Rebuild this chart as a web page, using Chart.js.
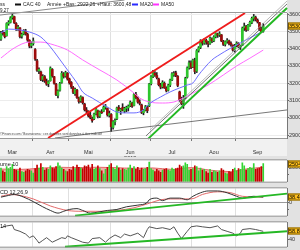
<!DOCTYPE html>
<html>
<head>
<meta charset="utf-8">
<script src="https://cdn.jsdelivr.net/npm/chart.js@4.4.1/dist/chart.umd.min.js"></script>
<style>
  html, body { margin: 0; padding: 0; background: #e4e4e4; }
  #wrap { position: relative; width: 300px; height: 250px; overflow: hidden; }
  canvas { position: absolute; left: 0; }
</style>
</head>
<body>
<div id="wrap">
  <canvas id="main" width="300" height="157" style="top:0"></canvas>
  <canvas id="vol" width="300" height="28" style="top:157px"></canvas>
  <canvas id="macd" width="300" height="34" style="top:185px"></canvas>
  <canvas id="rsi" width="300" height="31" style="top:219px"></canvas>
</div>
<script>
// CAC 40, daily, 8 Mar - 21 Sep 2012 (one slot per trading day, empty slots on the right)
const months = ['Mar', 'Avr', 'Mai', 'Jun', 'Jul', 'Aou', 'Sep'];
const monthStart = [0, 17, 36, 58, 79, 101, 124];
const monthLabelAt = [6, 26, 46, 68, 90, 112, 135];
const priceTicks = [2900, 2950, 3000, 3050, 3100, 3150, 3200, 3250, 3300, 3350, 3400, 3450, 3500, 3550, 3600];

const opens = [
  3455,3492,3488,3475,3545,3552,3580,3585,3545,3518,3520,3472,3485,3500,3482,3448,3418,
  3430,3395,3330,3272,3265,3222,3238,3212,3198,3215,3280,3238,3195,3130,3160,3205,3255,3242,3258,
  3225,3205,3175,3140,3160,3115,3098,3118,3080,3045,3038,3015,2995,2995,3025,3040,3010,3035,3038,3062,3055,3015,
  3020,2945,2978,2995,3060,3042,3060,3040,3055,3058,3070,3085,3072,3135,3115,3090,3075,3030,3045,3062,3070,
  3198,3240,3258,3245,3225,3190,3180,3200,3172,3160,3190,3220,3250,3260,3240,3150,3105,3085,3115,3235,3290,3318,
  3295,3330,3270,3390,3408,3440,3432,3448,3435,3430,3458,3445,3470,3485,3480,3480,3440,3425,3442,3445,3428,3420,3395,
  3418,3430,3410,3420,3520,3528,3510,3535,3552,3575,3580,3565,3550,3515,3500
];
const highs = [
  3500,3505,3495,3550,3562,3585,3600,3588,3550,3535,3522,3490,3510,3512,3490,3452,3440,
  3462,3400,3338,3290,3270,3250,3245,3225,3215,3295,3285,3240,3200,3162,3205,3268,3262,3270,3262,
  3230,3210,3182,3172,3165,3120,3128,3122,3085,3060,3042,3035,3005,3028,3058,3045,3040,3048,3070,3078,3058,3040,
  3025,2985,2995,3062,3072,3055,3082,3062,3068,3075,3098,3092,3140,3148,3122,3105,3080,3050,3072,3070,3200,
  3245,3275,3268,3262,3230,3200,3215,3208,3180,3195,3225,3262,3268,3270,3245,3155,3120,3130,3235,3295,3330,3330,
  3340,3345,3395,3412,3452,3448,3458,3455,3442,3468,3462,3475,3492,3490,3498,3482,3448,3445,3458,3450,3440,3422,3425,
  3440,3435,3420,3525,3548,3535,3540,3560,3582,3598,3588,3572,3552,3525,3545
];
const lows = [
  3448,3478,3462,3472,3535,3548,3570,3545,3505,3505,3462,3460,3480,3478,3442,3405,3405,
  3420,3332,3268,3255,3215,3210,3205,3188,3180,3212,3235,3195,3128,3115,3155,3200,3230,3235,3218,
  3195,3170,3140,3130,3112,3085,3090,3080,3040,3030,3005,2995,2975,2990,3018,3000,3002,3025,3035,3050,3010,3005,
  2922,2935,2960,2990,3040,3020,3040,3030,3035,3040,3065,3060,3070,3110,3085,3075,3025,3018,3040,3030,3065,
  3190,3232,3240,3225,3185,3168,3172,3170,3150,3155,3180,3215,3240,3238,3180,3095,3075,3055,3110,3230,3282,3285,
  3290,3255,3262,3380,3400,3420,3425,3425,3410,3425,3435,3440,3462,3465,3470,3440,3418,3415,3432,3422,3415,3385,3380,
  3410,3405,3395,3418,3505,3500,3505,3528,3545,3560,3560,3548,3505,3492,3495
];
const closes = [
  3492,3488,3470,3545,3552,3578,3590,3550,3515,3525,3470,3482,3502,3485,3450,3415,3428,
  3445,3340,3275,3280,3222,3240,3215,3195,3210,3288,3242,3200,3135,3155,3198,3258,3240,3262,3225,
  3202,3180,3148,3165,3118,3095,3122,3088,3048,3040,3012,3002,2985,3022,3052,3008,3035,3030,3062,3068,3018,3025,
  2950,2978,2985,3058,3045,3050,3045,3055,3060,3068,3090,3068,3135,3118,3092,3085,3032,3045,3065,3042,3196,
  3238,3262,3248,3232,3192,3178,3205,3175,3158,3188,3218,3255,3258,3245,3188,3105,3082,3110,3228,3288,3318,3292,
  3335,3268,3388,3405,3445,3432,3450,3438,3428,3460,3445,3468,3488,3478,3485,3445,3425,3440,3445,3430,3425,3392,3415,
  3432,3412,3415,3518,3530,3508,3535,3552,3575,3585,3570,3555,3512,3498,3530
];
const volumes = [
  1900,1500,1300,2100,1800,2000,2400,1700,1600,1500,1900,1400,1300,1500,1700,1600,1500,
  1200,1800,2300,1900,2500,2000,1600,1800,1700,2200,1900,1800,2100,2600,2200,1900,1700,1500,1400,
  1700,1600,2100,1800,2300,2000,1900,1800,2200,2100,2300,1800,2400,1700,1900,2200,1800,1500,1100,1700,2000,2300,
  2500,1900,1700,2200,1900,1600,1800,1700,1600,1900,2300,1800,2100,1700,2000,1600,1900,1700,1800,2000,2700,
  1800,1600,1400,1700,1500,1300,1600,1700,1800,1600,1500,1900,1700,1800,1900,2300,2100,2200,2600,2400,1600,1700,
  1800,2200,2100,1500,1900,1600,1700,1400,1200,1700,1300,1500,1400,1300,1500,1800,1600,1200,1100,1400,1300,1700,1900,
  1500,1800,1700,2600,2200,1600,1800,2000,1900,2500,1700,1800,1900,2100,2504
];

// moving averages and indicators at a few dates
const ma20Idx = [0,4,10,15,21,26,30,35,40,43,48,56,61,66,70,75,78,84,89,94,98,101,104,107,111,114,121,126,131,136,138];
const ma20Val = [3490,3513,3508,3496,3467,3410,3352,3277,3202,3150,3115,3063,3034,3029,3029,3046,3081,3121,3150,3173,3190,3202,3248,3288,3335,3358,3404,3433,3462,3490,3502];
const ma50Idx = [0,7,15,21,28,35,43,52,61,70,73,78,85,91,96,101,109,117,124,131,138];
const ma50Val = [3346,3404,3438,3438,3421,3392,3335,3277,3219,3144,3115,3092,3086,3092,3115,3144,3190,3248,3300,3345,3392];
const volMaIdx = [0,10,20,30,40,50,60,70,80,90,100,110,120,130,138];
const volMaVal = [1750,1700,1850,2000,1950,2000,1950,1850,1900,1700,1950,1600,1400,1800,2000];
const macdIdx = [0,4,7,12,17,22,26,30,33,36,40,43,47,51,56,61,66,72,77,78,82,85,89,94,98,101,105,109,114,119,124,127,133,138];
const macdVal = [38,50,57,38,6,-31,-57,-76,-63,-50,-44,-57,-76,-69,-57,-50,-31,-19,0,19,31,13,31,31,19,44,69,82,82,69,44,31,44,38.4];
const signalIdx = [0,5,10,17,26,35,43,52,61,70,78,84,89,100,106,114,121,127,138];
const signalVal = [44,57,50,25,-25,-57,-63,-63,-57,-38,-6,19,25,25,57,76,69,44,38];
const rsiIdx = [0,3,6,7,10,13,15,17,19,20,22,24,27,29,32,34,35,37,43,46,48,52,55,57,60,63,65,68,72,75,77,78,82,85,89,91,93,95,98,100,103,106,110,114,116,119,122,124,126,127,131,134,136,138];
const rsiVal = [67.2,71.3,73.4,63,58.8,52.5,44.2,48.4,37.9,31.6,37.9,44.2,33.7,37.9,44.2,42.1,48.4,44.2,33.7,31.6,42.1,44.2,33.7,42.1,50.4,44.2,52.5,48.4,54.6,44.2,63,69.3,65.1,67.2,63,69.3,54.6,42.1,58.8,69.3,71.3,69.3,67.2,71.3,63,58.8,54.6,48.4,54.6,63,65.1,63,60.9,58.8];

// hand drawn trend lines (date index, value)
const trendRedX = [24.8, 128.4], trendRedY = [2884, 3606];
const trendGreenX = [77.4, 150.5], trendGreenY = [2879, 3635];
const trendDarkX = [76.3, 150.5], trendDarkY = [2896, 3658];
const trendGreyX = [78.4, 150.5], trendGreyY = [2930, 3675];
const trendLowX = [28.4, 150.5], trendLowY = [2884, 3046];
const trendTopX = [-0.5, 65], trendTopY = [3594, 3681];
const macdTrendX = [39, 150.5], macdTrendY = [-94, 63];
const rsiTrendX = [33.7, 150.5], rsiTrendY = [23.3, 58.8];

const X_MIN = -0.5, X_MAX = 150.5;
const FONT = 'Liberation Sans';
const tickFont = { family: FONT, size: 5.5 };
const upColor = '#2ec62e', downColor = '#9c0b0b';

const pts = (xs, ys) => xs.map((x, k) => ({ x, y: ys[k] }));

function line(xs, ys, color, width, extra) {
  return Object.assign({
    type: 'line', data: pts(xs, ys), borderColor: color, borderWidth: width,
    pointRadius: 0, tension: 0, fill: false, clip: false
  }, extra || {});
}

const boundaries = monthStart.slice(1).map(i => i - 0.5);

function gridX(ticks) {
  return {
    type: 'linear', min: X_MIN, max: X_MAX, position: 'bottom', offset: false,
    afterBuildTicks: s => { s.ticks = boundaries.map(v => ({ value: v })); },
    afterFit: s => { s.height = 0; },
    ticks: { display: false },
    grid: { color: '#e0e0e0', offset: false, drawTicks: ticks, tickLength: 3, tickColor: '#777' },
    border: { display: ticks, color: '#8a8a8a' }
  };
}

function rightAxis(min, max, values, label) {
  return {
    position: 'right', min, max,
    afterBuildTicks: s => { s.ticks = values.map(v => ({ value: v })); },
    afterFit: s => { s.width = 13; },
    ticks: { font: tickFont, color: '#333', padding: 0, callback: label },
    grid: { drawOnChartArea: false, tickLength: 2, tickColor: '#666' },
    border: { color: '#777' }
  };
}

const frame = {
  id: 'frame',
  beforeDraw(chart, args, o) {
    const { ctx, chartArea: a, width, height } = chart;
    ctx.save();
    ctx.fillStyle = '#e2e2e2';
    ctx.fillRect(0, 0, width, height);
    ctx.fillStyle = '#fff';
    ctx.fillRect(0, o.whiteTop ? 0 : a.top, a.right, a.bottom - (o.whiteTop ? 0 : a.top));
    if (o.band) {
      ctx.fillStyle = '#f1f1f1';
      ctx.fillRect(0, a.bottom, a.right, height - a.bottom - 1);
    }
    ctx.restore();
  },
  afterDraw(chart, args, o) {
    const { ctx, chartArea: a } = chart;
    ctx.save();
    ctx.strokeStyle = '#999';
    ctx.lineWidth = 1;
    ctx.beginPath();
    ctx.moveTo(0, a.top - 0.5); ctx.lineTo(a.right, a.top - 0.5);
    ctx.moveTo(0, a.bottom + 0.5); ctx.lineTo(a.right, a.bottom + 0.5);
    ctx.stroke();
    if (o.title) {
      ctx.font = '5.5px ' + FONT;
      ctx.fillStyle = '#222';
      ctx.textBaseline = 'top';
      ctx.fillText(o.title, 0, a.top + 1);
    }
    if (o.last !== undefined) {
      const y = Math.round(chart.scales.y.getPixelForValue(o.last));
      ctx.fillStyle = '#ffbf1a';
      ctx.fillRect(a.right + 1, y - 3.5, 13, 7);
      ctx.strokeStyle = '#7a5a00';
      ctx.strokeRect(a.right + 1.5, y - 3, 13, 6);
      ctx.fillStyle = '#000';
      ctx.font = '5.5px ' + FONT;
      ctx.textBaseline = 'middle';
      ctx.fillText(o.lastText, a.right + 2, y + 0.5);
    }
    ctx.restore();
  }
};

// title, legend and source text of the price panel
const mainText = {
  id: 'mainText',
  afterDraw(chart) {
    const ctx = chart.ctx;
    const a = chart.chartArea;
    ctx.save();
    ctx.font = '5px ' + FONT;
    ctx.fillStyle = '#222';
    ctx.textBaseline = 'middle';
    const legend = [
      ['ss', 0, null], ['CAC 40', 23, '#111'], ['Année', 47, null],
      ['+Bas: 2922,26', 63, null], ['+Haut: 3600,48', 97, null],
      ['MA20', 140, '#2b2bff'], ['MA50', 161, '#ff33ff']
    ];
    legend.forEach(([t, x, mark]) => {
      if (mark) {
        ctx.fillStyle = mark;
        ctx.fillRect(x - 8, 3.5, 6, 2);
        ctx.fillStyle = '#222';
      }
      ctx.fillText(t, x, 4.5);
    });
    ctx.font = '4.5px ' + FONT;
    ctx.fillText('9,27', 0, 10.5);
    ctx.fillStyle = '#444';
    ctx.font = '4px ' + FONT;
    ctx.fillText('©Finance.com / Boursorama : ces données sont données à titre indicatif', 0, a.bottom - 4, 102);
    ctx.restore();
  }
};

const baseOpts = (pad, frameOpts, scales) => ({
  responsive: false, animation: false, events: [],
  layout: { padding: pad },
  plugins: { legend: { display: false }, tooltip: { enabled: false }, frame: frameOpts },
  scales
});

// price panel
new Chart(document.getElementById('main'), {
  type: 'bar',
  data: {
    datasets: [
      line(trendTopX, trendTopY, '#8a8a8a', 1),
      line(trendRedX, trendRedY, '#ee1c1c', 2),
      line(trendGreenX, trendGreenY, '#22b822', 2),
      line(trendDarkX, trendDarkY, '#555', 0.8),
      line(trendGreyX, trendGreyY, '#aaa', 0.8),
      line(trendLowX, trendLowY, '#555', 0.8),
      line(ma20Idx, ma20Val, '#6f6fff', 1, { cubicInterpolationMode: 'monotone' }),
      line(ma50Idx, ma50Val, '#ff6cff', 1, { cubicInterpolationMode: 'monotone' }),
      {
        data: closes.map((c, i) => ({ x: i, y: [opens[i], c] })),
        backgroundColor: closes.map((c, i) => c >= opens[i] ? upColor : downColor),
        barThickness: 2, minBarLength: 1, grouped: false
      },
      {
        data: closes.map((c, i) => ({ x: i, y: [lows[i], highs[i]] })),
        backgroundColor: '#222', barThickness: 1, grouped: false
      }
    ]
  },
  options: baseOpts({ top: 13 }, { whiteTop: true, band: true, last: closes[closes.length - 1], lastText: '3530' }, {
    x: gridX(true),
    x2: {
      type: 'linear', min: X_MIN, max: X_MAX, position: 'bottom', offset: false,
      afterBuildTicks: s => { s.ticks = monthLabelAt.map(v => ({ value: v })); },
      afterFit: s => { s.height = 19; },
      ticks: {
        font: tickFont, color: '#333', padding: 3, maxRotation: 0, autoSkip: false,
        callback: v => {
          const m = months[monthLabelAt.indexOf(v)];
          return m === 'Jun' ? [m, '2012'] : m;
        }
      },
      grid: { display: false },
      border: { display: false }
    },
    y: Object.assign(rightAxis(2884, 3606, priceTicks, v => v % 100 === 0 ? String(v) : ''), {
      grid: {
        color: c => (c.tick && c.tick.value % 100 === 0) ? '#ececec' : 'rgba(0,0,0,0)',
        tickLength: 2, tickColor: '#666'
      }
    })
  }),
  plugins: [frame, mainText]
});

// volume panel
new Chart(document.getElementById('vol'), {
  type: 'bar',
  data: {
    datasets: [
      {
        data: volumes.map((v, i) => ({ x: i, y: v })),
        backgroundColor: closes.map((c, i) => c >= opens[i] ? '#33d633' : '#c40000'),
        barThickness: 1, grouped: false
      },
      line(volMaIdx, volMaVal, '#e36a6a', 1, { fill: 'origin', backgroundColor: '#f6a9a9', clip: true, cubicInterpolationMode: 'monotone' })
    ]
  },
  options: baseOpts({ top: 1, bottom: 1 }, { title: 'ume 10', last: volumes[volumes.length - 1], lastText: '2504' }, {
    x: gridX(false),
    y: rightAxis(0, 2960, [1000, 2000], v => v === 2000 ? '2000' : '')
  }),
  plugins: [frame]
});

// MACD panel
new Chart(document.getElementById('macd'), {
  type: 'line',
  data: {
    datasets: [
      line(macdTrendX, macdTrendY, '#25b825', 2),
      line(macdIdx, macdVal, '#333', 1, { cubicInterpolationMode: 'monotone' }),
      line(signalIdx, signalVal, '#e46a6a', 1, { cubicInterpolationMode: 'monotone' })
    ]
  },
  options: baseOpts({ top: 2, bottom: 1 }, { title: 'CD 12,26,9', last: macdVal[macdVal.length - 1], lastText: '38.4' }, {
    x: gridX(false),
    y: Object.assign(rightAxis(-94.5, 101, [-50, 0, 50], v => v === 0 ? '0' : ''), {
      grid: { color: c => (c.tick && c.tick.value === 0) ? '#9a9a9a' : 'rgba(0,0,0,0)', tickLength: 2, tickColor: '#666' }
    })
  }),
  plugins: [frame]
});

// RSI panel
new Chart(document.getElementById('rsi'), {
  type: 'line',
  data: {
    datasets: [
      line(rsiTrendX, rsiTrendY, '#25b825', 2),
      line(rsiIdx, rsiVal, '#555', 1)
    ]
  },
  options: baseOpts({ top: 1, bottom: 3 }, { title: '14', last: rsiVal[rsiVal.length - 1], lastText: '58.8' }, {
    x: gridX(false),
    y: rightAxis(23.3, 79.7, [40, 60], v => v === 40 ? '40' : '')
  }),
  plugins: [frame]
});
</script>
</body>
</html>
